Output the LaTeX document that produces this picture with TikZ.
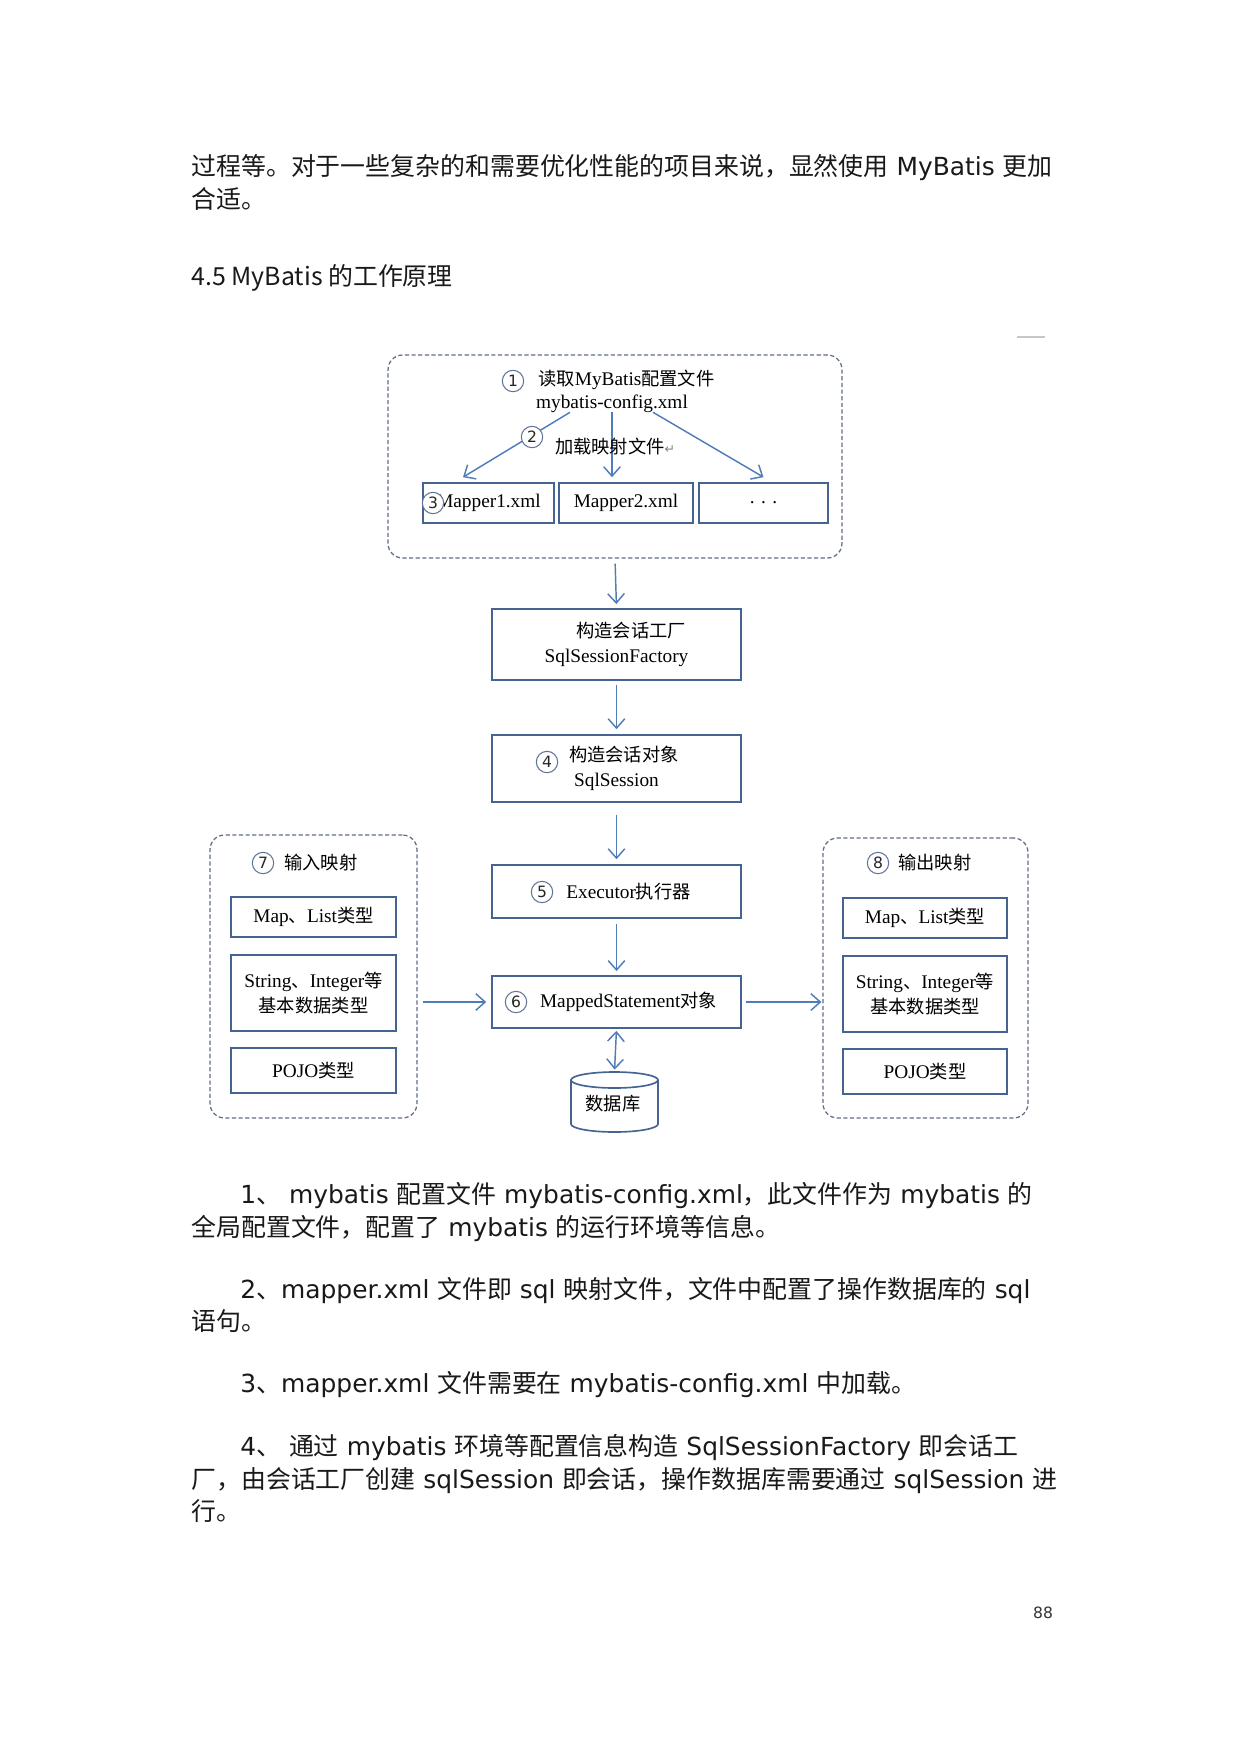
\documentclass[tikz,border=0pt]{standalone}
\usepackage{fontspec}
\setmainfont{DejaVu Sans}
\newfontfamily\cjkfont{Noto Sans CJK SC}
\newfontfamily\serfont{Liberation Serif}
\newfontfamily\dejavu{DejaVu Sans}
\usetikzlibrary{arrows.meta,calc}
\newcommand\zh[1]{{\cjkfont #1}}
\newcommand\dz[1]{{\cjkfont\fontsize{8.8}{12}\selectfont #1}}
\newcommand\bodyfont{\fontsize{12}{16}\selectfont}
\newcommand\dgfont{\fontsize{9.3}{12}\selectfont\serfont}
\newcommand\p{0.4818pt}
\definecolor{boxc}{RGB}{70,100,145}
\definecolor{arrc}{RGB}{80,125,185}
\definecolor{dashc}{RGB}{95,110,135}
\definecolor{numc}{RGB}{95,115,150}
\begin{document}
\begin{tikzpicture}[x=0.0169355cm,y=-0.0169355cm,
  box/.style={draw=boxc,line width=0.8pt,fill=white,inner sep=0pt,font=\dgfont,align=center},
  dbox/.style={draw=dashc,dash pattern=on 2pt off 1.2pt,line width=0.6pt,rounded corners=7pt,inner sep=0pt},
  arr/.style={draw=arrc,line width=0.7pt,-{Straight Barb[length=4.5pt,width=8pt]}},
  darr/.style={draw=arrc,line width=0.7pt,{Straight Barb[length=4.5pt,width=8pt]}-{Straight Barb[length=4.5pt,width=8pt]}},
  num/.style={circle,draw=numc,line width=0.5pt,fill=white,inner sep=0pt,minimum size=10.3pt,font=\fontsize{7.5}{7.5}\selectfont\dejavu,text=black!85},
  lbl/.style={inner sep=0pt,font=\dgfont,align=center},
  body/.style={inner sep=0pt,anchor=base west,font=\bodyfont,text=black!90}]
\useasboundingbox (0,0) rectangle (1240,1753);
\fill[white] (0,0) rectangle (1240,1753);

% ---- body text above ----
\node[body] (l1) at (191,175.5) {\zh{过程等。对于一些复杂的和需要优化性能的项目来说，显然使用} MyBatis \zh{更加}};
\node[body] (l2) at (191,208.5) {\zh{合适。}};
\node[body,font=\fontsize{12}{16}\selectfont\cjkfont] (head) at (191,285.5) {4.5 MyBatis 的工作原理};
\draw[gray!45,line width=0.5pt] (1017,337) -- (1045,337);

% ---- top dashed group ----
\node[dbox,minimum width=454*\p,minimum height=203*\p] (topbox) at (615,456.5) {};
\node[lbl,anchor=west] (t1) at (538,380) {\dz{读取}MyBatis\dz{配置文件}};
\node[lbl] (cfg) at (612,404) {mybatis-config.xml};
\node[box,minimum width=131*\p,minimum height=40*\p] (m1) at (488.5,503) {Mapper1.xml};
\node[box,minimum width=134*\p,minimum height=40*\p] (m2) at (626,503) {Mapper2.xml};
\node[box,minimum width=129*\p,minimum height=40*\p] (m3) at (763.5,503) {. . .};
\draw[arr] ($(cfg.south)+(-42,-1)$) -- ($(m1.north)+(-25.5,-5)$);
\draw[arr] ($(cfg.south)+(0,-1)$) -- ($(m2.north)+(-14,-5)$);
\draw[arr] ($(cfg.south)+(41,-1)$) -- ($(m3.north)+(0,-5)$);
\node[lbl] (t2) at (615,447) {\dz{加载映射文件}{\dejavu\color{gray}\fontsize{6}{6}\selectfont ↵}};
\node[num] (n1) at (513,381) {1};
\node[num] (n2) at (532,437) {2};
\node[num] (n3) at (433,503) {3};

% ---- centre column ----
\node[box,minimum width=249*\p,minimum height=71*\p] (ssf) at (616.5,644.5) {\hspace*{14pt}\dz{构造会话工厂}\\SqlSessionFactory};
\node[box,minimum width=249*\p,minimum height=67*\p] (ss) at (616.5,768.5) {\hspace*{7.2pt}\dz{构造会话对象}\\SqlSession};
\node[box,minimum width=249*\p,minimum height=53*\p] (ex) at (616.5,891.5) {\hspace*{11.6pt}Executor\dz{执行器}};
\node[box,minimum width=249*\p,minimum height=52*\p] (ms) at (616.5,1002) {\hspace*{11.6pt}MappedStatement\dz{对象}};
\node[num] (n4) at (547,762) {4};
\node[num] (n5) at (542,892) {5};
\node[num] (n6) at (516,1002) {6};

\node[inner sep=0pt,minimum width=87*\p,minimum height=60*\p] (db) at (614.5,1102) {};
\draw[boxc,line width=0.8pt,fill=white] (571,1080) -- (571,1124) arc[start angle=180,end angle=0,x radius=43.5,y radius=8] -- (658,1080);
\draw[boxc,line width=0.8pt,fill=white] (614.5,1080) ellipse[x radius=43.5,y radius=8];
\node[lbl] (dbt) at (613,1104) {\dz{数据库}};

\draw[arr,shorten <=2.4pt,shorten >=2pt] (topbox.south) -- (ssf.north);
\draw[arr,shorten <=2pt,shorten >=2.4pt] (ssf.south) -- (ss.north);
\draw[arr,shorten <=5.8pt,shorten >=2.4pt] (ss.south) -- (ex.north);
\draw[arr,shorten <=2.4pt,shorten >=2pt] (ex.south) -- (ms.north);
\draw[darr,shorten <=1pt,shorten >=1pt] (ms.south) -- (db.north);

% ---- input mapping ----
\node[dbox,minimum width=207*\p,minimum height=283*\p] (inbox) at (313.5,976.5) {};
\node[num] (n7) at (263,863) {7};
\node[lbl,anchor=west] (t7) at (284,863) {\dz{输入映射}};
\node[box,minimum width=165*\p,minimum height=40*\p] (im1) at (313.5,917) {Map\dz{、}List\dz{类型}};
\node[box,minimum width=165*\p,minimum height=76*\p] (im2) at (313.5,993) {String\dz{、}Integer\dz{等}\\\dz{基本数据类型}};
\node[box,minimum width=165*\p,minimum height=45*\p] (im3) at (313.5,1070.5) {POJO\dz{类型}};

% ---- output mapping ----
\node[dbox,minimum width=205*\p,minimum height=280*\p] (outbox) at (925.5,978) {};
\node[num] (n8) at (878,863) {8};
\node[lbl,anchor=west] (t8) at (898,863) {\dz{输出映射}};
\node[box,minimum width=164*\p,minimum height=40*\p] (om1) at (925,918) {Map\dz{、}List\dz{类型}};
\node[box,minimum width=164*\p,minimum height=76*\p] (om2) at (925,994) {String\dz{、}Integer\dz{等}\\\dz{基本数据类型}};
\node[box,minimum width=164*\p,minimum height=45*\p] (om3) at (925,1071.5) {POJO\dz{类型}};

\draw[arr,shorten <=2.4pt,shorten >=2.4pt] (inbox.east |- ms.west) -- (ms.west);
\draw[arr,shorten <=2pt,shorten >=0.5pt] (ms.east) -- (outbox.west |- ms.east);

% ---- body text below ----
\node[body] (p1a) at (240,1203.5) {1\zh{、} mybatis \zh{配置文件} mybatis-config.xml\zh{，此文件作为} mybatis \zh{的}};
\node[body] (p1b) at (191,1236.5) {\zh{全局配置文件，配置了} mybatis \zh{的运行环境等信息。}};
\node[body] (p2a) at (240,1298.5) {2\zh{、}mapper.xml \zh{文件即} sql \zh{映射文件，文件中配置了操作数据库的} sql};
\node[body] (p2b) at (191,1330.5) {\zh{语句。}};
\node[body] (p3) at (240,1392.5) {3\zh{、}mapper.xml \zh{文件需要在} mybatis-config.xml \zh{中加载。}};
\node[body] (p4a) at (240,1455.5) {4\zh{、} \zh{通过} mybatis \zh{环境等配置信息构造} SqlSessionFactory \zh{即会话工}};
\node[body] (p4b) at (191,1488.5) {\zh{厂，由会话工厂创建} sqlSession \zh{即会话，操作数据库需要通过} sqlSession \zh{进}};
\node[body] (p4c) at (191,1520.5) {\zh{行。}};
\node[inner sep=0pt,anchor=base,font=\fontsize{7.5}{9}\selectfont,text=black!80] (pg) at (1043,1618) {88};
\end{tikzpicture}
\end{document}
